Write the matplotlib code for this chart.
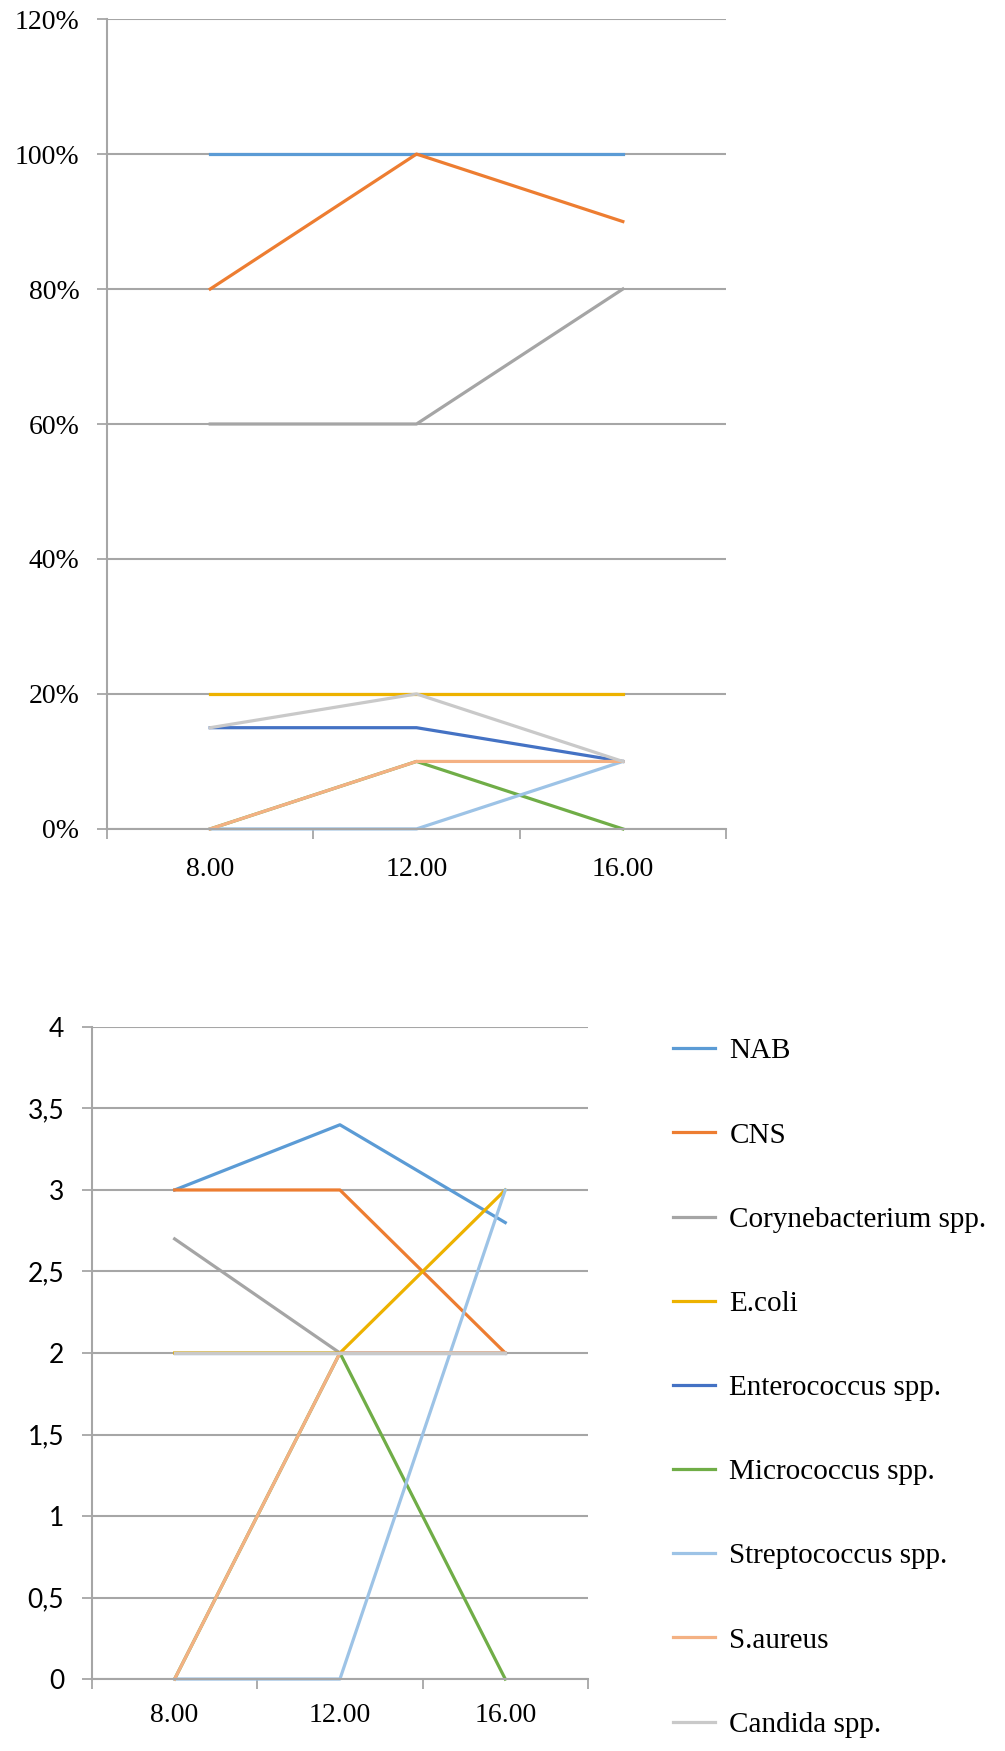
import matplotlib
matplotlib.use("Agg")
import matplotlib.pyplot as plt
from matplotlib.ticker import FuncFormatter, MultipleLocator, FixedLocator

plt.rcParams['font.family'] = ['Liberation Serif', 'DejaVu Serif']

# sampling times
times = ['8.00', '12.00', '16.00']
species = ['NAB', 'CNS', 'Corynebacterium spp.', 'E.coli', 'Enterococcus spp.',
           'Micrococcus spp.', 'Streptococcus spp.', 'S.aureus', 'Candida spp.']
colors = ['#5B9BD5', '#ED7D31', '#A5A5A5', '#EDB200', '#4472C4',
          '#70AD47', '#9DC3E6', '#F4B183', '#C9C9C9']

# share of positive samples (top chart)
pct_nab = [1.00, 1.00, 1.00]
pct_cns = [0.80, 1.00, 0.90]
pct_coryne = [0.60, 0.60, 0.80]
pct_ecoli = [0.20, 0.20, 0.20]
pct_entero = [0.15, 0.15, 0.10]
pct_micro = [0.00, 0.10, 0.00]
pct_strepto = [0.00, 0.00, 0.10]
pct_saureus = [0.00, 0.10, 0.10]
pct_candida = [0.15, 0.20, 0.10]

# counts (bottom chart)
cnt_nab = [3.0, 3.4, 2.8]
cnt_cns = [3.0, 3.0, 2.0]
cnt_coryne = [2.7, 2.0, 2.0]
cnt_ecoli = [2.0, 2.0, 3.0]
cnt_entero = [2.0, 2.0, 2.0]
cnt_micro = [0.0, 2.0, 0.0]
cnt_strepto = [0.0, 0.0, 3.0]
cnt_saureus = [0.0, 2.0, 2.0]
cnt_candida = [2.0, 2.0, 2.0]

top_series = [pct_nab, pct_cns, pct_coryne, pct_ecoli, pct_entero,
              pct_micro, pct_strepto, pct_saureus, pct_candida]
bottom_series = [cnt_nab, cnt_cns, cnt_coryne, cnt_ecoli, cnt_entero,
                 cnt_micro, cnt_strepto, cnt_saureus, cnt_candida]

FS = 20
GRID = '#A6A6A6'

fig = plt.figure(figsize=(10.05, 17.51), dpi=100)
ax1 = fig.add_axes([0.1065, 0.5266, 0.7224 - 0.1065, 0.9891 - 0.5266])
ax2 = fig.add_axes([0.0915, 0.0411, 0.585 - 0.0915, 0.4135 - 0.0411])


def style_axis(ax, ymax, step, fmt, xpad):
    x = list(range(len(times)))
    ax.set_xlim(-0.5, len(times) - 0.5)
    ax.set_ylim(0, ymax)
    ax.yaxis.set_major_locator(MultipleLocator(step))
    ax.yaxis.set_major_formatter(FuncFormatter(fmt))
    ax.set_xticks(x)
    ax.set_xticklabels(times)
    ax.xaxis.set_minor_locator(FixedLocator([i - 0.5 for i in range(len(times) + 1)]))
    ax.tick_params(axis='x', which='major', length=0, pad=xpad, labelsize=FS)
    ax.tick_params(axis='x', which='minor', length=7, width=1.3, color=GRID)
    ax.tick_params(axis='y', length=7, width=1.3, color=GRID, pad=13, labelsize=FS)
    ax.grid(axis='y', color=GRID, linewidth=1.5)
    ax.set_axisbelow(True)
    for s in ['top', 'right']:
        ax.spines[s].set_visible(False)
    for s in ['left', 'bottom']:
        ax.spines[s].set_color(GRID)
        ax.spines[s].set_linewidth(1.5)


style_axis(ax1, 1.2, 0.2, lambda v, p: f"{v * 100:.0f}%", 20)
style_axis(ax2, 4, 0.5, lambda v, p: f"{v:g}".replace('.', ','), 17)

# the count axis uses a sans face in the original
for lbl in ax2.get_yticklabels():
    lbl.set_family(['Lato', 'DejaVu Sans'])
    lbl.set_fontsize(19)

x = list(range(len(times)))
for name, vals, c in zip(species, top_series, colors):
    ax1.plot(x, vals, color=c, linewidth=2.3, label=name, clip_on=False)

handles = []
for name, vals, c in zip(species, bottom_series, colors):
    h, = ax2.plot(x, vals, color=c, linewidth=2.3, label=name, clip_on=False)
    handles.append(h)

fig.legend(handles=handles, labels=species, loc='upper left',
           bbox_to_anchor=(0.6697, 0.4072), frameon=False, fontsize=21,
           handlelength=1.43, handletextpad=0.5, labelspacing=1.98,
           borderpad=0, borderaxespad=0)

fig.savefig('out.png', dpi=100)
